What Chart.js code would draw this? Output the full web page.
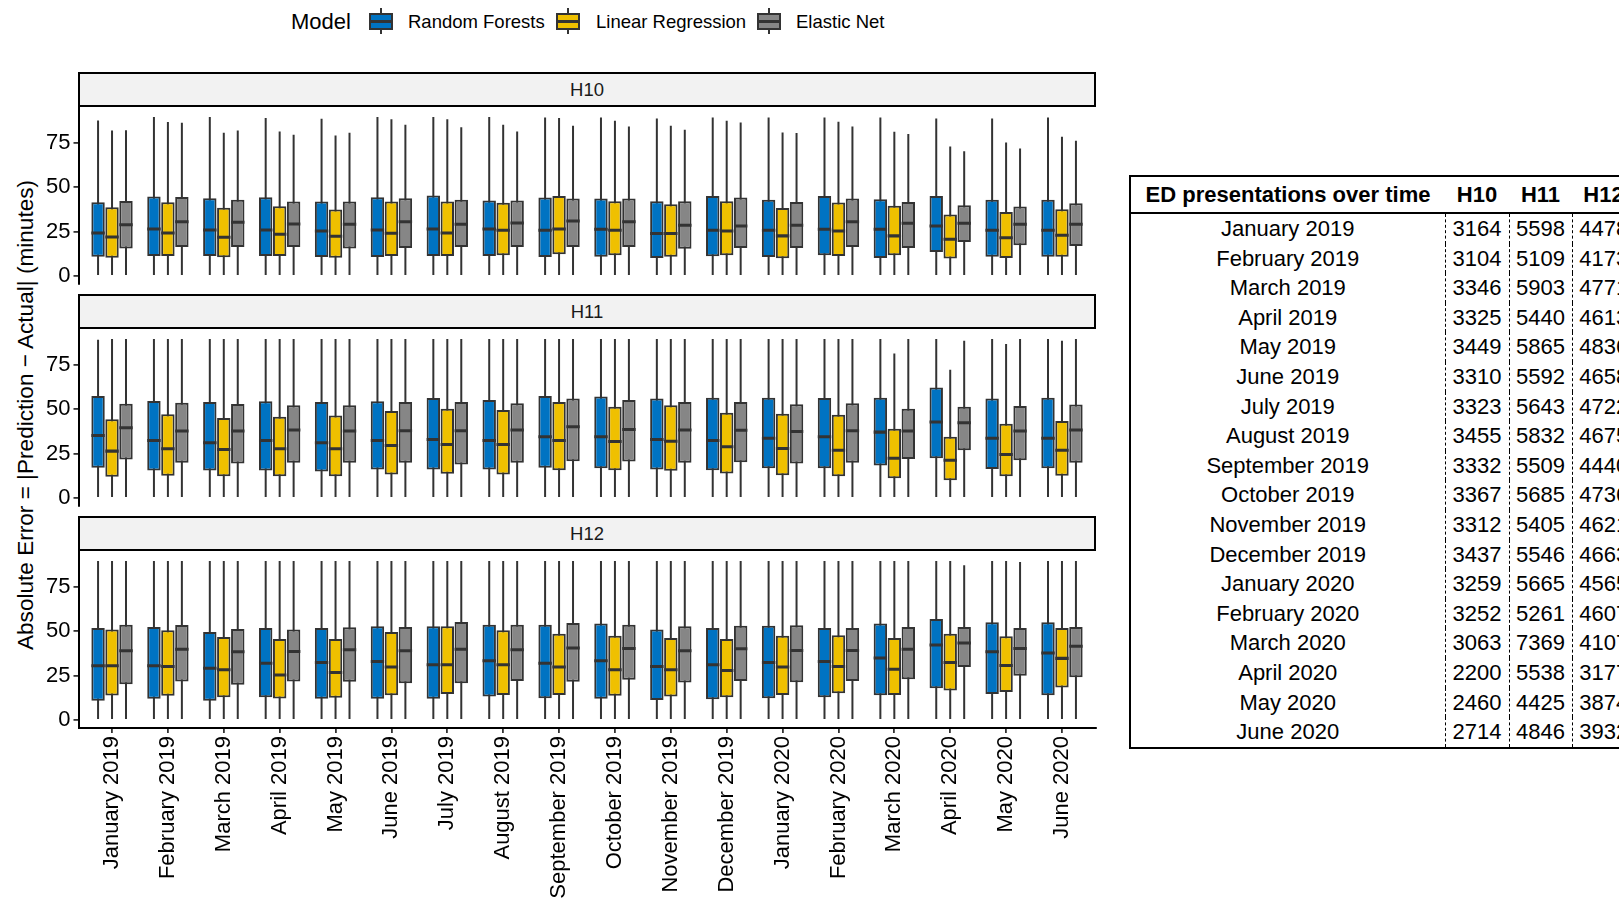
<!DOCTYPE html>
<html>
<head>
<meta charset="utf-8">
<script src="https://cdn.jsdelivr.net/npm/chart.js@4.4.1/dist/chart.umd.min.js"></script>
<style>
  body { margin: 0; width: 1619px; height: 902px; overflow: hidden; background: #fff; position: relative;
         font-family: "Liberation Sans", Arial, Helvetica, sans-serif; color: #000; }
  .abs { position: absolute; white-space: nowrap; }
  .strip { position: absolute; left: 78px; width: 1018px; height: 35px; box-sizing: border-box; border: 2px solid #000;
           background: #f2f2f2; font-size: 18.5px; text-align: center; line-height: 31px; color: #1a1a1a; }
  .lg { position: absolute; top: 9px; line-height: 26px; font-size: 18.5px; white-space: nowrap; }
  .key { position: absolute; top: 8px; width: 24px; height: 26px; }
  .key .wh { position: absolute; left: 11px; top: 0; width: 2px; height: 26px; background: #333; }
  .key .bx { position: absolute; left: 0; top: 4.5px; width: 24px; height: 17.5px; box-sizing: border-box; border: 2px solid #333; }
  .key .md { position: absolute; left: 0; top: 12px; width: 24px; height: 2.8px; background: #333; }
  canvas { position: absolute; left: 0; }
  #tbl { position: absolute; left: 1129px; top: 175px; width: 506px; border-collapse: collapse; table-layout: fixed;
         font-size: 22px; border: 2.5px solid #000; }
  #tbl th { height: 35px; padding: 0; font-weight: bold; border-bottom: 2.5px solid #000; white-space: nowrap; }
  #tbl td { height: 29.6px; padding: 0; text-align: center; line-height: 29.6px; white-space: nowrap; }
  #tbl td.n { border-left: 1.4px dashed #000; }
</style>
</head>
<body>

<div class="lg" style="left:291px;font-size:22px">Model</div>
<div class="key" style="left:369px"><i class="wh"></i><i class="bx" style="background:#0073C2"></i><i class="md"></i></div>
<div class="lg" style="left:408px">Random Forests</div>
<div class="key" style="left:556px"><i class="wh"></i><i class="bx" style="background:#EFC000"></i><i class="md"></i></div>
<div class="lg" style="left:596px">Linear Regression</div>
<div class="key" style="left:757px"><i class="wh"></i><i class="bx" style="background:#868686"></i><i class="md"></i></div>
<div class="lg" style="left:796px">Elastic Net</div>

<div class="strip" style="top:72px">H10</div>
<div class="strip" style="top:294px">H11</div>
<div class="strip" style="top:516px">H12</div>

<div class="abs" style="left:26px;top:415px;font-size:22.6px;transform:translate(-50%,-50%) rotate(-90deg)">Absolute Error = |Prediction − Actual| (minutes)</div>

<canvas id="c10" width="1100" height="216" style="top:88px"></canvas>
<canvas id="c11" width="1100" height="216" style="top:310px"></canvas>
<canvas id="c12" width="1100" height="370" style="top:532px"></canvas>

<table id="tbl">
  <colgroup><col style="width:315px"><col style="width:64px"><col style="width:63px"><col style="width:64px"></colgroup>
  <thead><tr><th>ED presentations over time</th><th>H10</th><th>H11</th><th>H12</th></tr></thead>
  <tbody id="tbody"></tbody>
</table>

<script>
const months = ['January 2019', 'February 2019', 'March 2019', 'April 2019', 'May 2019', 'June 2019',
  'July 2019', 'August 2019', 'September 2019', 'October 2019', 'November 2019', 'December 2019',
  'January 2020', 'February 2020', 'March 2020', 'April 2020', 'May 2020', 'June 2020'];
const models = ['Random Forests', 'Linear Regression', 'Elastic Net'];
const modelColors = ['#0073C2', '#EFC000', '#868686'];
const yTicks = [0, 25, 50, 75];

// lower whisker ends at 0 for every box
const whiskerLow = [0, 0, 0, 0, 0, 0, 0, 0, 0, 0, 0, 0, 0, 0, 0, 0, 0, 0];

// H10
const h10RfQ1  = [10.8, 11.3, 11.2, 11.3, 10.7, 10.7, 11.3, 11.3, 10.7, 10.9, 10.2, 11.1, 10.7, 11.7, 10.2, 13.5, 10.9, 10.9];
const h10RfMed = [24.2, 26.5, 25.9, 25.9, 25.4, 25.9, 26.5, 26.5, 25.8, 26.3, 23.9, 25.8, 25.8, 26.3, 26.3, 28.2, 25.8, 25.8];
const h10RfQ3  = [41.5, 44.7, 43.8, 44.4, 41.9, 44.4, 45.3, 42.5, 44.2, 43.6, 42.1, 45.1, 42.9, 45.1, 43.2, 45.1, 42.9, 42.9];
const h10RfMax = [87.6, 89.5, 89.5, 88.9, 88.5, 89.5, 89.5, 89.5, 89.3, 89.3, 88.7, 89.3, 89.3, 89.3, 89.3, 88.7, 88.7, 89.3];
const h10LrQ1  = [10.3, 11.3, 10.6, 11.3, 10.3, 11.3, 11.3, 11.7, 12.2, 11.7, 10.9, 11.7, 10.0, 11.3, 11.7, 9.8, 10.2, 10.9];
const h10LrMed = [22.0, 24.2, 21.8, 23.5, 22.4, 24.1, 24.2, 25.8, 26.5, 25.8, 23.9, 25.4, 22.6, 25.4, 22.6, 20.7, 21.6, 22.9];
const h10LrQ3  = [38.7, 41.5, 38.5, 39.3, 37.4, 41.9, 41.9, 41.2, 45.1, 42.1, 40.4, 42.1, 38.3, 41.4, 39.5, 34.6, 36.1, 37.6];
const h10LrMax = [82.0, 86.7, 80.6, 81.4, 79.1, 88.2, 88.2, 85.2, 89.0, 87.4, 84.6, 87.4, 80.8, 86.8, 81.2, 72.9, 75.2, 78.4];
const h10EnQ1  = [15.5, 16.3, 16.3, 16.3, 15.5, 15.8, 16.3, 16.3, 16.4, 16.4, 15.4, 15.8, 15.8, 16.4, 15.8, 19.2, 17.3, 16.9];
const h10EnMed = [28.8, 30.6, 30.3, 29.3, 29.1, 30.6, 29.1, 29.9, 31.0, 30.5, 28.6, 28.2, 28.6, 30.5, 29.7, 29.7, 29.1, 29.1];
const h10EnQ3  = [42.3, 44.5, 42.9, 41.9, 41.9, 43.8, 43.0, 42.5, 43.6, 43.6, 42.1, 44.2, 41.7, 43.6, 41.7, 39.8, 39.1, 41.0];
const h10EnMax = [82.1, 86.3, 82.0, 79.5, 80.6, 85.2, 83.8, 81.4, 84.6, 84.2, 82.3, 86.5, 80.5, 84.2, 79.9, 70.3, 71.8, 76.1];

// H11
const h11RfQ1  = [17.0, 15.5, 15.5, 15.5, 14.9, 16.0, 16.0, 16.0, 17.0, 16.8, 16.0, 15.6, 16.8, 16.8, 18.3, 22.4, 16.4, 16.8];
const h11RfMed = [35.2, 32.4, 31.1, 32.4, 31.1, 32.4, 33.0, 32.4, 34.5, 34.5, 33.0, 32.4, 33.7, 34.5, 37.1, 42.8, 33.7, 33.7];
const h11RfQ3  = [57.5, 54.6, 54.1, 54.5, 54.1, 54.5, 56.3, 55.2, 57.5, 57.1, 56.0, 56.5, 56.5, 56.3, 56.5, 62.2, 56.0, 56.5];
const h11RfMax = [89.1, 89.5, 89.5, 89.5, 89.5, 89.5, 89.5, 89.5, 89.5, 89.5, 89.5, 89.5, 89.5, 89.5, 89.5, 89.5, 89.5, 89.5];
const h11LrQ1  = [11.9, 12.6, 12.2, 12.2, 12.2, 13.2, 13.6, 13.2, 15.6, 15.6, 15.3, 13.8, 12.8, 12.2, 11.1, 10.0, 12.2, 12.6];
const h11LrMed = [26.4, 27.7, 27.3, 27.7, 27.7, 29.6, 30.1, 30.1, 32.4, 31.8, 32.0, 28.8, 27.9, 26.9, 22.4, 21.3, 24.5, 26.9];
const h11LrQ3  = [44.3, 47.1, 45.0, 45.8, 46.5, 49.0, 50.3, 49.6, 54.1, 51.4, 52.2, 48.0, 47.5, 46.9, 39.0, 34.5, 41.8, 43.3];
const h11LrMax = [89.5, 89.5, 89.5, 89.5, 89.5, 89.5, 89.5, 89.5, 89.5, 89.5, 89.5, 89.5, 89.5, 89.5, 81.4, 72.2, 86.7, 88.6];
const h11EnQ1  = [21.7, 19.8, 19.4, 19.8, 19.8, 19.8, 18.8, 19.8, 20.7, 20.5, 19.8, 20.2, 19.4, 19.8, 22.0, 26.9, 21.3, 19.8];
const h11EnMed = [39.6, 37.7, 37.7, 38.3, 37.7, 37.9, 37.9, 38.3, 40.1, 38.6, 38.3, 38.1, 37.5, 37.9, 37.7, 42.4, 37.7, 38.3];
const h11EnQ3  = [53.1, 53.7, 52.9, 52.2, 52.2, 54.1, 54.1, 53.3, 56.0, 55.2, 54.1, 54.1, 52.8, 53.3, 50.3, 51.4, 51.8, 52.6];
const h11EnMax = [89.5, 89.5, 89.5, 89.5, 89.5, 89.5, 89.5, 89.5, 89.5, 89.5, 89.5, 89.5, 89.5, 89.5, 89.5, 88.6, 89.5, 89.5];

// H12
const h12RfQ1  = [10.9, 11.9, 10.9, 12.8, 11.9, 11.9, 11.9, 13.2, 12.2, 11.9, 11.3, 11.7, 12.2, 12.8, 13.9, 17.9, 14.7, 13.9];
const h12RfMed = [30.5, 30.5, 29.2, 32.0, 32.4, 33.0, 31.1, 33.4, 32.0, 33.4, 30.1, 31.1, 32.4, 33.0, 34.9, 42.2, 38.4, 37.7];
const h12RfQ3  = [51.8, 52.4, 49.6, 51.8, 51.8, 52.8, 52.8, 53.7, 53.7, 54.3, 50.9, 51.8, 53.1, 51.8, 54.3, 56.9, 55.0, 55.0];
const h12RfMax = [89.5, 89.5, 89.5, 89.5, 89.5, 89.5, 89.5, 89.5, 89.5, 89.5, 89.5, 89.5, 89.5, 89.5, 89.5, 89.5, 89.5, 89.5];
const h12LrQ1  = [13.8, 13.6, 12.8, 12.1, 12.6, 13.9, 14.7, 14.1, 14.1, 13.6, 13.2, 12.8, 14.1, 15.1, 14.1, 16.6, 15.8, 18.3];
const h12LrMed = [30.5, 30.1, 28.3, 25.4, 26.8, 29.8, 31.1, 31.1, 29.8, 28.3, 28.3, 27.9, 29.8, 30.1, 28.6, 32.4, 30.7, 34.7];
const h12LrQ3  = [50.9, 50.5, 46.7, 45.6, 45.6, 49.6, 52.8, 50.5, 48.6, 47.5, 46.2, 45.6, 47.5, 47.7, 46.2, 48.6, 47.1, 51.8];
const h12LrMax = [89.5, 89.5, 89.5, 89.5, 89.5, 89.5, 89.5, 89.5, 89.5, 89.5, 89.5, 89.5, 89.5, 89.5, 89.5, 89.5, 89.5, 89.5];
const h12EnQ1  = [20.2, 21.7, 19.8, 21.7, 21.5, 20.7, 20.7, 22.0, 21.5, 22.6, 21.1, 22.0, 21.3, 22.0, 23.0, 29.8, 24.9, 24.1];
const h12EnMed = [39.0, 39.9, 38.4, 38.6, 39.6, 39.0, 39.9, 39.6, 40.5, 40.3, 39.0, 40.1, 39.2, 39.2, 39.9, 43.3, 40.3, 41.5];
const h12EnQ3  = [53.7, 53.5, 51.3, 50.9, 52.2, 52.4, 55.2, 53.7, 54.6, 53.7, 52.8, 53.1, 53.3, 51.8, 52.4, 52.4, 51.8, 52.4];
const h12EnMax = [89.5, 89.5, 89.5, 89.5, 89.5, 89.5, 89.5, 89.5, 89.5, 89.5, 89.5, 89.5, 89.5, 89.5, 89.5, 87.1, 89.0, 89.5];

// table: monthly ED presentations
const h10Counts = [3164, 3104, 3346, 3325, 3449, 3310, 3323, 3455, 3332, 3367, 3312, 3437, 3259, 3252, 3063, 2200, 2460, 2714];
const h11Counts = [5598, 5109, 5903, 5440, 5865, 5592, 5643, 5832, 5509, 5685, 5405, 5546, 5665, 5261, 7369, 5538, 4425, 4846];
const h12Counts = [4478, 4173, 4771, 4613, 4836, 4658, 4722, 4675, 4440, 4736, 4621, 4663, 4565, 4607, 4107, 3177, 3874, 3932];

const FONT = '"Liberation Sans", Arial, Helvetica, sans-serif';
const OUTLINE = '#333333';
const MEDIAN_HALF = 0.85;   // half thickness of the median bar, in minutes

function boxDatasets(series) {
  const medians = [], boxes = [], whiskers = [];
  series.forEach(([q1, med, q3, hi], m) => {
    const stack = models[m];
    medians.push({
      label: models[m] + ' median', stack,
      data: med.map((v, i) => ({ x: i + 1, y: [v - MEDIAN_HALF, v + MEDIAN_HALF] })),
      backgroundColor: OUTLINE, borderWidth: 0,
    });
    boxes.push({
      label: models[m], stack,
      data: q1.map((v, i) => ({ x: i + 1, y: [v, q3[i]] })),
      backgroundColor: modelColors[m], borderColor: OUTLINE, borderWidth: 2, borderSkipped: false,
    });
    whiskers.push({
      label: models[m] + ' whisker', stack,
      data: hi.map((v, i) => ({ x: i + 1, y: [whiskerLow[i], v] })),
      backgroundColor: OUTLINE, borderWidth: 0, maxBarThickness: 2,
    });
  });
  // first dataset is painted last, so medians sit on top
  return [...medians, ...boxes, ...whiskers];
}

function panel(id, series, showX) {
  const ctx = document.getElementById(id).getContext('2d');
  return new Chart(ctx, {
    type: 'bar',
    data: { datasets: boxDatasets(series) },
    options: {
      responsive: false,
      animation: false,
      devicePixelRatio: 1,
      events: [],
      datasets: { bar: { categoryPercentage: 0.75, barPercentage: 0.96, inflateAmount: 0 } },
      layout: { padding: { top: 20, right: 4.5, bottom: showX ? 0 : 20, left: 0 } },
      plugins: { legend: { display: false }, tooltip: { enabled: false } },
      scales: {
        x: {
          type: 'linear', min: 0.4, max: 18.6, offset: false, display: showX,
          afterBuildTicks: (s) => { s.ticks = months.map((m, i) => ({ value: i + 1 })); },
          afterFit: (s) => { if (showX) s.height = 174; },
          grid: { offset: false, drawOnChartArea: false, drawTicks: true, tickLength: 5, color: OUTLINE, lineWidth: 1.8 },
          border: { display: true, color: '#000', width: 2 },
          ticks: {
            autoSkip: false, minRotation: 90, maxRotation: 90, padding: 3,
            font: { family: FONT, size: 22 }, color: '#000',
            callback: (v, i) => months[i],
          },
        },
        y: {
          min: -4.5, max: 94.6, stacked: false,
          afterBuildTicks: (s) => { s.ticks = yTicks.map((v) => ({ value: v })); },
          afterFit: (s) => { s.width = 78.5; },
          grid: { drawOnChartArea: false, drawTicks: true, tickLength: 5, color: OUTLINE, lineWidth: 1.8 },
          border: { display: true, color: '#000', width: 2 },
          ticks: { padding: 3, font: { family: FONT, size: 22 }, color: '#000' },
        },
      },
    },
  });
}

panel('c10', [
  [h10RfQ1, h10RfMed, h10RfQ3, h10RfMax],
  [h10LrQ1, h10LrMed, h10LrQ3, h10LrMax],
  [h10EnQ1, h10EnMed, h10EnQ3, h10EnMax],
], false);
panel('c11', [
  [h11RfQ1, h11RfMed, h11RfQ3, h11RfMax],
  [h11LrQ1, h11LrMed, h11LrQ3, h11LrMax],
  [h11EnQ1, h11EnMed, h11EnQ3, h11EnMax],
], false);
panel('c12', [
  [h12RfQ1, h12RfMed, h12RfQ3, h12RfMax],
  [h12LrQ1, h12LrMed, h12LrQ3, h12LrMax],
  [h12EnQ1, h12EnMed, h12EnQ3, h12EnMax],
], true);

// table
const tbody = document.getElementById('tbody');
months.forEach((m, i) => {
  const tr = document.createElement('tr');
  tr.innerHTML = `<td>${m}</td><td class="n">${h10Counts[i]}</td><td class="n">${h11Counts[i]}</td><td class="n">${h12Counts[i]}</td>`;
  tbody.appendChild(tr);
});
</script>
</body>
</html>
